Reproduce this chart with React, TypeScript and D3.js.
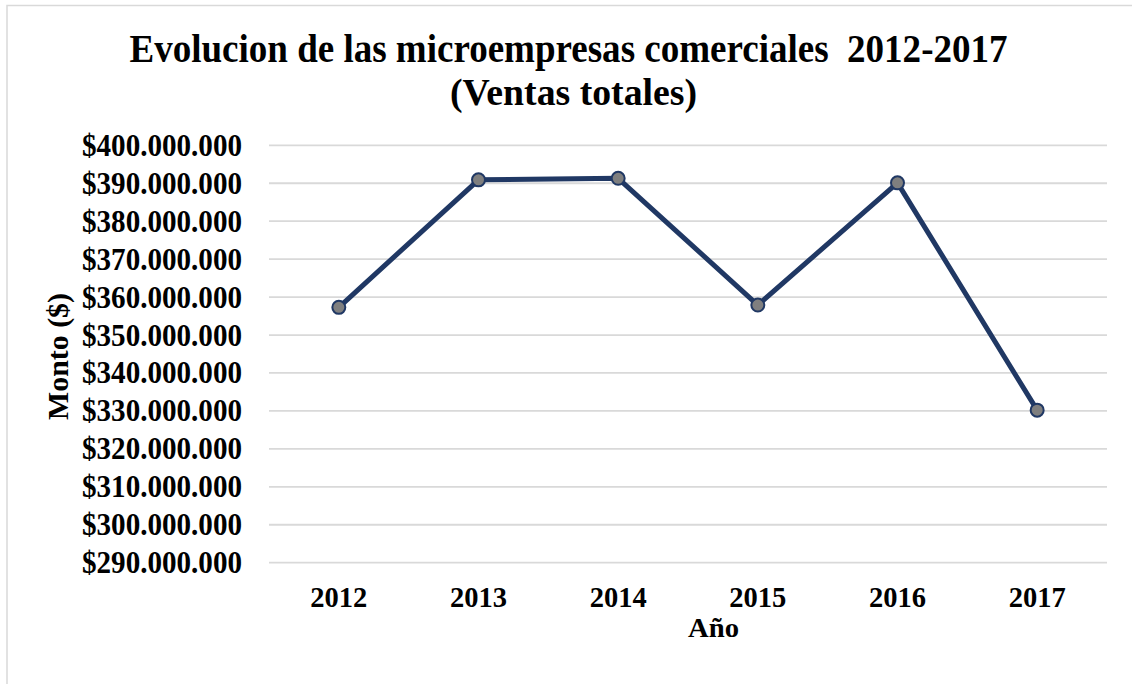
import React from "react";
import * as d3 from "d3";

const years: string[] = ["2012", "2013", "2014", "2015", "2016", "2017"];
const sales: number[] = [357300000, 390900000, 391300000, 357900000, 390100000, 330200000];
const yTicks: number[] = [290000000, 300000000, 310000000, 320000000, 330000000, 340000000, 350000000, 360000000, 370000000, 380000000, 390000000, 400000000];
const titleLines: string[] = ["Evolucion de las microempresas comerciales  2012-2017", "(Ventas totales)"];
const xTitle = "Año";
const yTitle = "Monto ($)";

const W = 1132;
const H = 684;
const FONT = "'Times New Roman', 'Liberation Serif', serif";

function fmt(v: number): string {
  return "$" + String(Math.round(v)).replace(/\B(?=(\d{3})+(?!\d))/g, ".");
}

export default function App() {
  const x = d3.scalePoint<string>().domain(years).range([269, 1107]).padding(0.5);
  const y = d3.scaleLinear().domain([290000000, 400000000]).range([562.7, 145.3]);
  const line = d3
    .line<number>()
    .x((_, i) => x(years[i]) as number)
    .y((d) => y(d));

  return (
    <svg
      width={W}
      height={H}
      style={{ position: "absolute", left: 0, top: 0, background: "#fff" }}
      fontFamily={FONT}
      fontWeight="bold"
    >
      <rect x={7} y={5.5} width={1300} height={900} fill="#fff" stroke="#d9d9d9" strokeWidth={1.5} />
      <text x={568.5} y={61.5} fontSize={40} textAnchor="middle" textLength={878} lengthAdjust="spacingAndGlyphs" style={{ whiteSpace: "pre" }}>
        {titleLines[0]}
      </text>
      <text x={573.5} y={105} fontSize={38} textAnchor="middle" textLength={247} lengthAdjust="spacingAndGlyphs">
        {titleLines[1]}
      </text>
      {yTicks.map((t) => (
        <g key={t}>
          <line x1={269} x2={1107} y1={y(t)} y2={y(t)} stroke="#d9d9d9" strokeWidth={1.8} />
          <text
            x={242}
            y={y(t) + 10.5}
            fontSize={30.5}
            textAnchor="end"
            textLength={160}
            lengthAdjust="spacingAndGlyphs"
          >
            {fmt(t)}
          </text>
        </g>
      ))}
      {years.map((yr) => (
        <text key={yr} x={x(yr) as number} y={607} fontSize={30} textAnchor="middle" textLength={57} lengthAdjust="spacingAndGlyphs">
          {yr}
        </text>
      ))}
      <text x={713.5} y={637} fontSize={27} textAnchor="middle" textLength={51} lengthAdjust="spacingAndGlyphs">
        {xTitle}
      </text>
      <text
        transform={`translate(68,356.5) rotate(-90)`}
        fontSize={29}
        textAnchor="middle"
        textLength={127}
        lengthAdjust="spacingAndGlyphs"
      >
        {yTitle}
      </text>
      <path d={line(sales) || ""} fill="none" stroke="#203864" strokeWidth={5} strokeLinejoin="round" />
      {sales.map((v, i) => (
        <circle key={years[i]} cx={x(years[i]) as number} cy={y(v)} r={6.5} fill="#7f7f7f" stroke="#203864" strokeWidth={2} />
      ))}
    </svg>
  );
}
